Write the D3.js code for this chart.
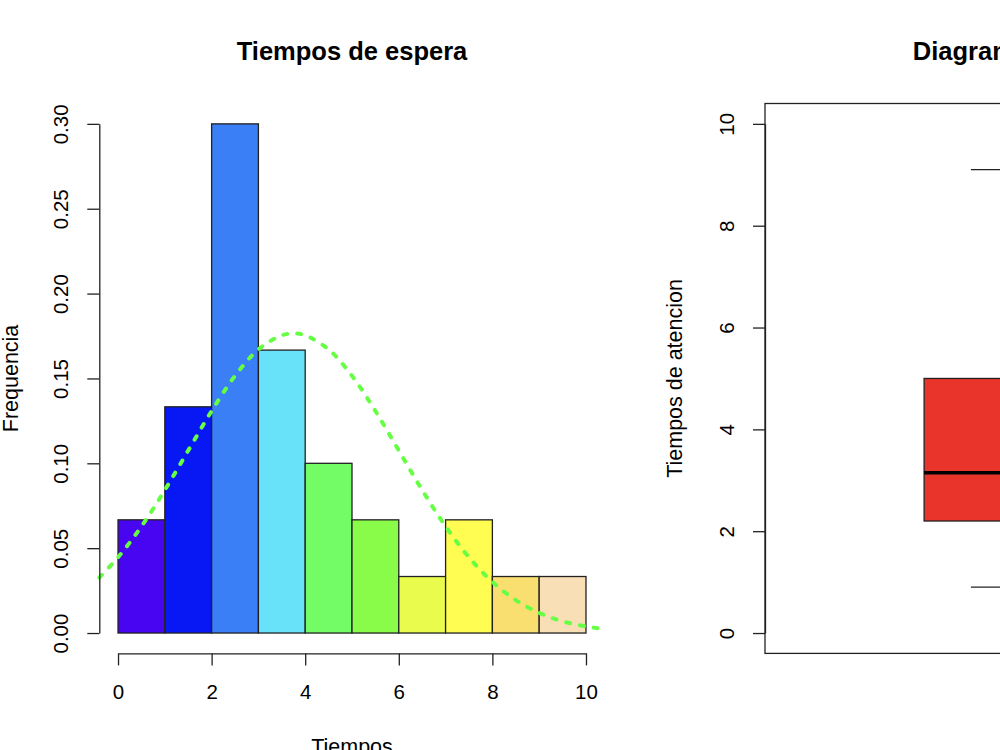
<!DOCTYPE html>
<html>
<head>
<meta charset="utf-8">
<script src="https://cdn.jsdelivr.net/npm/d3@7"></script>
<style>
  body { margin: 0; background: #fff; overflow: hidden; }
  svg { display: block; font-family: "Liberation Sans", Arial, sans-serif; }
</style>
</head>
<body>
<script>
// histogram data (density per bin)
const binStarts = [0, 1, 2, 3, 4, 5, 6, 7, 8, 9];
const density = [0.0667, 0.1333, 0.3, 0.1667, 0.1, 0.0667, 0.0333, 0.0667, 0.0333, 0.0333];
const barColors = ["#4805F2", "#0818F5", "#3A7FF5", "#68E2F8", "#73FC66",
                   "#89FC4A", "#E9FC4E", "#FFFC52", "#F9DE70", "#F9DFB6"];
const xTicks = [0, 2, 4, 6, 8, 10];
const yTicks = [0, 0.05, 0.10, 0.15, 0.20, 0.25, 0.30];

// normal curve
const curveX = [-0.4, 0, 0.5, 1, 1.5, 2, 2.5, 3, 3.5, 3.75, 4, 4.5, 5, 5.5, 6, 6.5, 7, 7.5, 8, 8.5, 9, 9.5, 10, 10.4];
const curveY = [0.0327, 0.0446, 0.0628, 0.0842, 0.1075, 0.1308, 0.1515, 0.1671, 0.1754, 0.1765, 0.1754, 0.1671,
                0.1515, 0.1308, 0.1075, 0.0842, 0.0628, 0.0446, 0.0301, 0.0194, 0.0119, 0.0069, 0.0039, 0.0023];

// boxplot stats
const boxStats = {lower: 0.9, q1: 2.2, median: 3.15, q3: 5.0, upper: 9.1};
const boxTicks = [0, 2, 4, 6, 8, 10];

const width = 1000, height = 750;
const plot = {top: 103.5, bottom: 653.4};
const left = {x0: 99.3, x1: 604.7};
const right = {x0: 765, x1: 1270.4};
const ink = "#222";
const tickFont = 20.5, labFont = 21.5, titleFont = 25.5;

let svg = d3.select("body").append("svg")
        .attr("width", width)
        .attr("height", height);

// ---------- left panel: histogram ----------
let x = d3.scaleLinear().domain([-0.4, 10.4]).range([left.x0, left.x1]);
let y = d3.scaleLinear().domain([-0.012, 0.312]).range([plot.bottom, plot.top]);

let g = svg.append("g");

g.selectAll("rect.bar")
  .data(binStarts)
  .enter().append("rect")
  .attr("class", "bar")
  .attr("x", d => x(d))
  .attr("width", d => x(d + 1) - x(d))
  .attr("y", (d, i) => y(density[i]))
  .attr("height", (d, i) => y(0) - y(density[i]))
  .attr("fill", (d, i) => barColors[i])
  .attr("stroke", ink)
  .attr("stroke-width", 1.3);

let line = d3.line()
  .x(d => x(d[0]))
  .y(d => y(d[1]))
  .curve(d3.curveCatmullRom);

g.append("path")
  .datum(curveX.map((v, i) => [v, curveY[i]]))
  .attr("d", line)
  .attr("fill", "none")
  .attr("stroke", "#66FF44")
  .attr("stroke-width", 4)
  .attr("stroke-linecap", "round")
  .attr("stroke-dasharray", "4 10");

// axes span first to last tick, like R
let xAxisScale = x.copy().domain([0, 10]).range([x(0), x(10)]);
let yAxisScale = y.copy().domain([0, 0.3]).range([y(0), y(0.3)]);

let xAxis = svg.append("g")
  .attr("transform", "translate(0," + plot.bottom + ")")
  .call(d3.axisBottom(xAxisScale).tickValues(xTicks).tickSize(12).tickSizeOuter(0).tickPadding(19));

let yAxis = svg.append("g")
  .attr("transform", "translate(" + left.x0 + ",0)")
  .call(d3.axisLeft(yAxisScale).tickValues(yTicks).tickSize(12).tickSizeOuter(0)
        .tickFormat(d3.format(".2f")));

let styleAxis = function(a){
  a.selectAll("path, line").attr("stroke", ink).attr("stroke-width", 1.3);
  a.selectAll("text").attr("fill", "#000").attr("font-size", tickFont)
   .attr("font-family", "Liberation Sans, Arial, sans-serif");
}
styleAxis(xAxis);
styleAxis(yAxis);

let rotateLabels = function(a){
  a.selectAll("text")
   .attr("x", 0).attr("y", 0).attr("dy", 0)
   .attr("text-anchor", "middle")
   .attr("transform", "translate(-31,0) rotate(-90)");
}
rotateLabels(yAxis);

svg.append("text")
  .attr("x", (x(-0.4) + x(10.4)) / 2)
  .attr("y", 60)
  .attr("text-anchor", "middle")
  .attr("font-size", titleFont)
  .attr("font-weight", "bold")
  .text("Tiempos de espera");

svg.append("text")
  .attr("x", (x(-0.4) + x(10.4)) / 2)
  .attr("y", 754)
  .attr("text-anchor", "middle")
  .attr("font-size", labFont)
  .text("Tiempos");

svg.append("text")
  .attr("transform", "translate(18," + (plot.top + plot.bottom) / 2 + ") rotate(-90)")
  .attr("text-anchor", "middle")
  .attr("font-size", labFont)
  .text("Frequencia");

// ---------- right panel: boxplot ----------
let bx = d3.scaleLinear().domain([0.46, 1.54]).range([right.x0, right.x1]);
let by = d3.scaleLinear().domain([-0.4, 10.4]).range([plot.bottom, plot.top]);
const boxHalf = 0.2, stapleHalf = 0.1;

let gb = svg.append("g");

gb.append("line")
  .attr("x1", bx(1)).attr("x2", bx(1))
  .attr("y1", by(boxStats.q3)).attr("y2", by(boxStats.upper))
  .attr("stroke", ink).attr("stroke-width", 1.3).attr("stroke-dasharray", "6 6");
gb.append("line")
  .attr("x1", bx(1)).attr("x2", bx(1))
  .attr("y1", by(boxStats.q1)).attr("y2", by(boxStats.lower))
  .attr("stroke", ink).attr("stroke-width", 1.3).attr("stroke-dasharray", "6 6");

gb.selectAll("line.staple")
  .data([boxStats.lower, boxStats.upper])
  .enter().append("line")
  .attr("class", "staple")
  .attr("x1", bx(1 - stapleHalf)).attr("x2", bx(1 + stapleHalf))
  .attr("y1", d => by(d)).attr("y2", d => by(d))
  .attr("stroke", ink).attr("stroke-width", 1.3);

gb.append("rect")
  .attr("x", bx(1 - boxHalf))
  .attr("width", bx(1 + boxHalf) - bx(1 - boxHalf))
  .attr("y", by(boxStats.q3))
  .attr("height", by(boxStats.q1) - by(boxStats.q3))
  .attr("fill", "#E8342A")
  .attr("stroke", ink)
  .attr("stroke-width", 1.3);

gb.append("line")
  .attr("x1", bx(1 - boxHalf)).attr("x2", bx(1 + boxHalf))
  .attr("y1", by(boxStats.median)).attr("y2", by(boxStats.median))
  .attr("stroke", "#000").attr("stroke-width", 3.5);

svg.append("rect")
  .attr("x", right.x0).attr("y", plot.top)
  .attr("width", right.x1 - right.x0).attr("height", plot.bottom - plot.top)
  .attr("fill", "none").attr("stroke", ink).attr("stroke-width", 1.3);

let byAxisScale = by.copy().domain([0, 10]).range([by(0), by(10)]);
let bAxis = svg.append("g")
  .attr("transform", "translate(" + right.x0 + ",0)")
  .call(d3.axisLeft(byAxisScale).tickValues(boxTicks).tickSize(12).tickSizeOuter(0));
styleAxis(bAxis);
rotateLabels(bAxis);

svg.append("text")
  .attr("x", (right.x0 + right.x1) / 2)
  .attr("y", 60)
  .attr("text-anchor", "middle")
  .attr("font-size", titleFont)
  .attr("font-weight", "bold")
  .text("Diagrama de caja");

svg.append("text")
  .attr("transform", "translate(682," + (plot.top + plot.bottom) / 2 + ") rotate(-90)")
  .attr("text-anchor", "middle")
  .attr("font-size", labFont)
  .text("Tiempos de atencion");
</script>
</body>
</html>
